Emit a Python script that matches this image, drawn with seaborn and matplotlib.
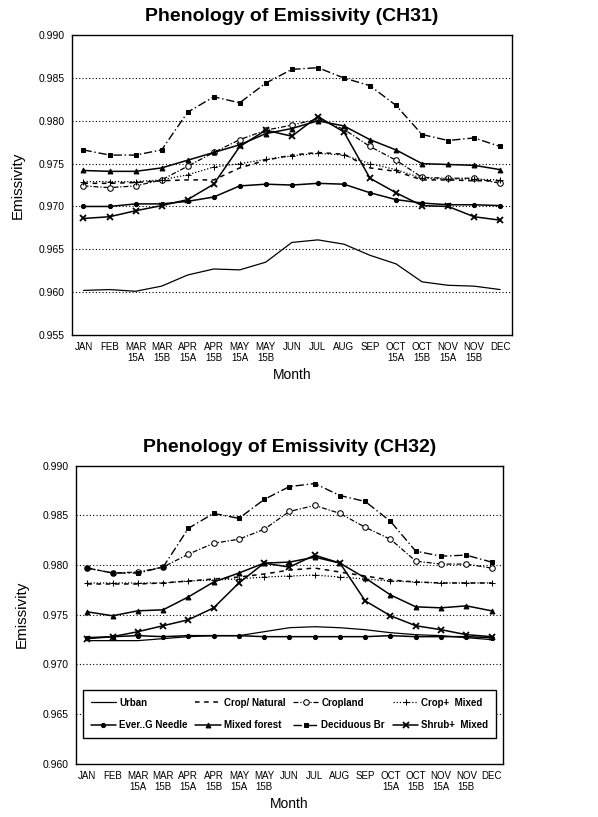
import matplotlib
matplotlib.use("Agg")
import matplotlib.pyplot as plt
import seaborn as sns
import pandas as pd

months = ["JAN", "FEB", "MAR\n15A", "MAR\n15B", "APR\n15A", "APR\n15B", "MAY\n15A",
          "MAY\n15B", "JUN", "JUL", "AUG", "SEP", "OCT\n15A", "OCT\n15B", "NOV\n15A",
          "NOV\n15B", "DEC"]
classes = ["Urban", "Crop/ Natural", "Cropland", "Crop+  Mixed",
           "Ever..G Needle", "Mixed forest", "Deciduous Br", "Shrub+  Mixed"]

# ---- CH31 ----
ch31_urban = [0.9602, 0.9603, 0.9601, 0.9607, 0.9620, 0.9627, 0.9626, 0.9635, 0.9658,
              0.9661, 0.9656, 0.9643, 0.9633, 0.9612, 0.9608, 0.9607, 0.9603]
ch31_crop_natural = [0.9727, 0.9727, 0.9728, 0.9730, 0.9731, 0.9731, 0.9745, 0.9754, 0.9760,
                     0.9763, 0.9761, 0.9745, 0.9741, 0.9731, 0.9731, 0.9730, 0.9730]
ch31_cropland = [0.9724, 0.9722, 0.9724, 0.9731, 0.9747, 0.9763, 0.9778, 0.9789, 0.9795,
                 0.9802, 0.9790, 0.9770, 0.9754, 0.9734, 0.9733, 0.9733, 0.9727]
ch31_crop_mixed = [0.9729, 0.9729, 0.9729, 0.9731, 0.9737, 0.9746, 0.9750, 0.9755, 0.9759,
                   0.9762, 0.9760, 0.9750, 0.9743, 0.9733, 0.9732, 0.9732, 0.9731]
ch31_evergreen = [0.9700, 0.9700, 0.9703, 0.9703, 0.9706, 0.9711, 0.9724, 0.9726, 0.9725,
                  0.9727, 0.9726, 0.9716, 0.9708, 0.9704, 0.9702, 0.9702, 0.9701]
ch31_mixed_forest = [0.9742, 0.9741, 0.9741, 0.9745, 0.9754, 0.9763, 0.9772, 0.9785, 0.9791,
                     0.9800, 0.9794, 0.9778, 0.9766, 0.9750, 0.9749, 0.9748, 0.9743]
ch31_deciduous = [0.9766, 0.9760, 0.9760, 0.9766, 0.9810, 0.9828, 0.9821, 0.9844, 0.9860,
                  0.9862, 0.9850, 0.9841, 0.9818, 0.9784, 0.9777, 0.9780, 0.9770]
ch31_shrub = [0.9686, 0.9688, 0.9695, 0.9701, 0.9708, 0.9726, 0.9770, 0.9789, 0.9782,
              0.9805, 0.9787, 0.9733, 0.9716, 0.9701, 0.9700, 0.9688, 0.9684]

# ---- CH32 ----
ch32_urban = [0.9724, 0.9724, 0.9724, 0.9726, 0.9728, 0.9729, 0.9729, 0.9733, 0.9737,
              0.9738, 0.9737, 0.9735, 0.9732, 0.9730, 0.9729, 0.9727, 0.9725]
ch32_crop_natural = [0.9781, 0.9781, 0.9781, 0.9782, 0.9784, 0.9786, 0.9788, 0.9791, 0.9795,
                     0.9797, 0.9793, 0.9789, 0.9785, 0.9783, 0.9782, 0.9782, 0.9782]
ch32_cropland = [0.9797, 0.9792, 0.9793, 0.9798, 0.9811, 0.9822, 0.9826, 0.9836, 0.9854,
                 0.9860, 0.9852, 0.9838, 0.9826, 0.9804, 0.9801, 0.9801, 0.9797]
ch32_crop_mixed = [0.9782, 0.9782, 0.9782, 0.9782, 0.9784, 0.9785, 0.9786, 0.9788, 0.9789,
                   0.9790, 0.9788, 0.9786, 0.9784, 0.9783, 0.9782, 0.9782, 0.9782]
ch32_evergreen = [0.9727, 0.9728, 0.9729, 0.9728, 0.9729, 0.9729, 0.9729, 0.9728, 0.9728,
                  0.9728, 0.9728, 0.9728, 0.9729, 0.9728, 0.9728, 0.9728, 0.9727]
ch32_mixed_forest = [0.9753, 0.9749, 0.9754, 0.9755, 0.9768, 0.9783, 0.9792, 0.9802, 0.9803,
                     0.9808, 0.9802, 0.9787, 0.9770, 0.9758, 0.9757, 0.9759, 0.9754]
ch32_deciduous = [0.9797, 0.9792, 0.9792, 0.9798, 0.9837, 0.9852, 0.9847, 0.9866, 0.9879,
                  0.9882, 0.9870, 0.9864, 0.9844, 0.9814, 0.9809, 0.9810, 0.9803]
ch32_shrub = [0.9726, 0.9728, 0.9733, 0.9739, 0.9745, 0.9757, 0.9782, 0.9802, 0.9798,
              0.9810, 0.9802, 0.9764, 0.9749, 0.9739, 0.9735, 0.9730, 0.9728]

ch31 = [ch31_urban, ch31_crop_natural, ch31_cropland, ch31_crop_mixed,
        ch31_evergreen, ch31_mixed_forest, ch31_deciduous, ch31_shrub]
ch32 = [ch32_urban, ch32_crop_natural, ch32_cropland, ch32_crop_mixed,
        ch32_evergreen, ch32_mixed_forest, ch32_deciduous, ch32_shrub]

styles = {
    "Urban":          dict(linestyle="-", linewidth=0.9, marker=None),
    "Crop/ Natural":  dict(linestyle=(0, (3, 3)), linewidth=1.1, marker=None),
    "Cropland":       dict(linestyle=(0, (4, 1.5, 1, 1.5)), linewidth=0.9, marker="o",
                           markersize=4, markerfacecolor="white"),
    "Crop+  Mixed":   dict(linestyle=(0, (1, 1.5)), linewidth=0.9, marker="+",
                           markersize=5),
    "Ever..G Needle": dict(linestyle="-", linewidth=1.1, marker="o", markersize=3,
                           markerfacecolor="black"),
    "Mixed forest":   dict(linestyle="-", linewidth=1.1, marker="^", markersize=3.5,
                           markerfacecolor="black"),
    "Deciduous Br":   dict(linestyle=(0, (6, 2, 1, 2)), linewidth=1.0, marker="s",
                           markersize=3.5, markerfacecolor="black"),
    "Shrub+  Mixed":  dict(linestyle="-", linewidth=1.1, marker="x", markersize=5,
                           markeredgewidth=1.3),
}

sns.set_theme(style="white")
plt.rcParams["font.family"] = ["Liberation Sans", "DejaVu Sans"]
plt.rcParams["text.color"] = "black"
plt.rcParams["axes.labelcolor"] = "black"
plt.rcParams["xtick.color"] = "black"
plt.rcParams["ytick.color"] = "black"

fig = plt.figure(figsize=(5.98, 8.17), dpi=100)
ax1 = fig.add_axes([0.120, 0.590, 0.736, 0.367])
ax2 = fig.add_axes([0.127, 0.065, 0.714, 0.365])

xpos = list(range(len(months)))


def draw(ax, data, title, ylo, yhi):
    handles = {}
    for name, vals in zip(classes, data):
        df = pd.DataFrame({"x": xpos, "y": vals})
        st = dict(styles[name])
        sns.lineplot(data=df, x="x", y="y", ax=ax, color="black",
                     markeredgecolor="black", legend=False, label=name, **st)
        handles[name] = ax.lines[-1]
    ax.set_xlim(-0.45, 16.45)
    ax.set_ylim(ylo, yhi)
    ticks = [round(ylo + 0.005 * i, 3) for i in range(int(round((yhi - ylo) / 0.005)) + 1)]
    ax.set_yticks(ticks)
    ax.set_yticklabels([f"{t:.3f}" for t in ticks], fontsize=7.5)
    for t in ticks[1:-1]:
        ax.axhline(t, color="black", linestyle=(0, (1, 2)), linewidth=0.8, zorder=0)
    ax.set_xticks(xpos)
    ax.set_xticklabels(months, fontsize=7, linespacing=1.1)
    ax.tick_params(axis="both", length=2, pad=3, colors="black")
    for s in ax.spines.values():
        s.set_color("black")
        s.set_linewidth(1.0)
    ax.set_xlabel("Month", fontsize=10, labelpad=4, color="black")
    ax.set_ylabel("Emissivity", fontsize=11, labelpad=10, color="black")
    ax.set_title(title, fontsize=14, fontweight="bold", pad=10, color="black")
    return handles


draw(ax1, ch31, "Phenology of Emissivity (CH31)", 0.955, 0.990)
h2 = draw(ax2, ch32, "Phenology of Emissivity (CH32)", 0.960, 0.990)

order = ["Urban", "Ever..G Needle", "Crop/ Natural", "Mixed forest",
         "Cropland", "Deciduous Br", "Crop+  Mixed", "Shrub+  Mixed"]
leg = ax2.legend([h2[n] for n in order], order, ncol=4, mode="expand",
                 loc="lower left", bbox_to_anchor=(0.005, 0.07, 0.99, 0.19),
                 fancybox=False, framealpha=1, edgecolor="black",
                 prop={"size": 7, "weight": "bold"}, handlelength=2.6,
                 handletextpad=0.3, columnspacing=0.4, borderpad=0.8,
                 labelspacing=1.3)
leg.get_frame().set_linewidth(1.0)
for t in leg.get_texts():
    t.set_color("black")

fig.savefig("out.png", dpi=100)
